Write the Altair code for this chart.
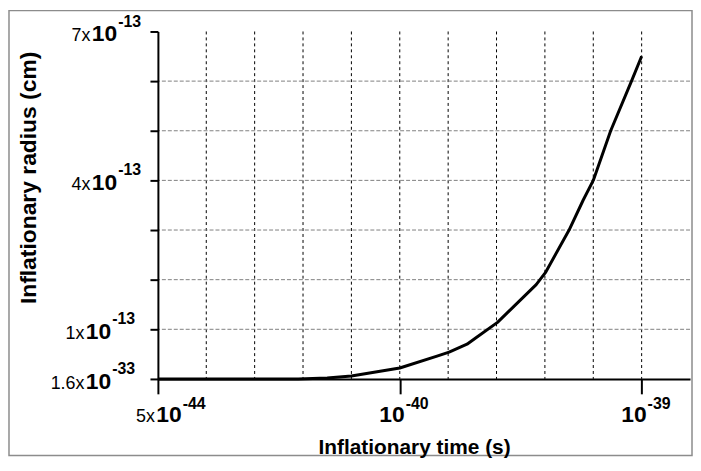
import altair as alt
import pandas as pd

FONT = "Liberation Sans"

# Curve (x: grid index, y: radius in units of 1e-13 cm)
time_idx = [0, 2.9, 3.5, 4.0, 5.0, 5.77, 6.02, 6.39, 6.59, 7.02, 7.82, 8.01, 8.5, 8.79, 9.0, 9.36, 9.79, 10.0]
radius = [0, 0, 0.02, 0.06, 0.22, 0.46, 0.54, 0.70, 0.84, 1.14, 1.90, 2.14, 3.0, 3.6, 4.0, 5.0, 6.0, 6.5]

# Axis ticks / labels
x_ticks = [0, 5, 10]
x_prefix = ["5x", "", ""]
x_exp = ["-44", "-40", "-39"]
y_ticks = [0, 1, 2, 3, 4, 5, 6, 7]
y_label_pos = [0, 1, 4, 7]
y_prefix = ["1.6x", "1x", "4x", "7x"]
y_exp = ["-33", "-13", "-13", "-13"]

# Grid lines
x_grid = [1, 2, 3, 4, 5, 6, 7, 8, 9, 10]
y_grid = [1, 2, 3, 4, 5, 6]

curve = pd.DataFrame({"t": time_idx, "r": radius})
xlab = pd.DataFrame({"t": x_ticks, "pre": x_prefix, "exp": x_exp})
ylab = pd.DataFrame({"r": y_label_pos, "pre": y_prefix, "exp": y_exp})
xg = pd.DataFrame({"t": x_grid})
yg = pd.DataFrame({"r": y_grid})

xscale = alt.Scale(domain=[0, 11], nice=False, zero=False)
yscale = alt.Scale(domain=[0, 7], nice=False, zero=False)

xaxis = alt.Axis(values=x_ticks, labels=False, grid=False, tickSize=15, tickWidth=2,
                 tickColor="black", domainColor="black", domainWidth=2,
                 title="Inflationary time (s)", titleFont=FONT, titleFontSize=21,
                 titleFontWeight="bold", titleColor="black", titleX=258, titleY=75,
                 titleAlign="center", titleBaseline="alphabetic", zindex=1)
yaxis = alt.Axis(values=y_ticks, labels=False, grid=False, tickSize=8, tickWidth=2,
                 tickColor="black", domainColor="black", domainWidth=2,
                 title="Inflationary radius (cm)", titleFont=FONT, titleFontSize=23,
                 titleFontWeight="bold", titleColor="black", titleX=-123, titleY=147,
                 titleAngle=270, titleAlign="center", titleBaseline="alphabetic", zindex=1)

X = lambda: alt.X("t:Q", scale=xscale, axis=xaxis)
Y = lambda: alt.Y("r:Q", scale=yscale, axis=yaxis)

vgrid = alt.Chart(xg).mark_rule(color="black", strokeWidth=1, strokeDash=[3, 3]).encode(x=X())
hgrid = alt.Chart(yg).mark_rule(color="#808080", strokeWidth=1, strokeDash=[4, 2]).encode(y=Y())

line = alt.Chart(curve).mark_line(color="black", strokeWidth=3, strokeJoin="round").encode(
    x=X(), y=Y())

# x tick labels: prefix + "10" + superscript exponent
xb = alt.Chart(xlab)
xtext = []
for sub, off in ((xb.transform_filter("datum.pre != ''"), 24), (xb.transform_filter("datum.pre == ''"), 5)):
    xtext.append(sub.mark_text(align="right", baseline="alphabetic", font=FONT, fontSize=23,
                               fontWeight="bold", color="black", dx=off).encode(
        x=X(), y=alt.value(393), text=alt.value("10")))
    xtext.append(sub.mark_text(align="left", baseline="alphabetic", font=FONT, fontSize=16,
                               fontWeight="bold", color="black", dx=off + 1).encode(
        x=X(), y=alt.value(380), text="exp:N"))
    xtext.append(sub.mark_text(align="right", baseline="alphabetic", font=FONT, fontSize=18,
                               color="black", dx=off - 27).encode(
        x=X(), y=alt.value(393), text="pre:N"))

# y tick labels
yb = alt.Chart(ylab)
ytext = []
for sub, xr in ((yb.transform_filter("datum.r >= 4"), -41), (yb.transform_filter("datum.r < 4"), -47)):
    ytext.append(sub.mark_text(align="right", baseline="alphabetic", font=FONT, fontSize=23,
                               fontWeight="bold", color="black", dy=10).encode(
        y=Y(), x=alt.value(xr), text=alt.value("10")))
    ytext.append(sub.mark_text(align="left", baseline="alphabetic", font=FONT, fontSize=16,
                               fontWeight="bold", color="black", dy=-5).encode(
        y=Y(), x=alt.value(xr + 1), text="exp:N"))
    ytext.append(sub.mark_text(align="right", baseline="alphabetic", font=FONT, fontSize=18,
                               color="black", dy=10).encode(
        y=Y(), x=alt.value(xr - 27), text="pre:N"))

frame = alt.Chart(pd.DataFrame({"a": [0]})).mark_rect(
    fillOpacity=0, stroke="#8c8c8c", strokeWidth=1.5).encode(
    x=alt.value(-150), x2=alt.value(538), y=alt.value(-21), y2=alt.value(427))

chart = alt.layer(frame, vgrid, hgrid, line, *xtext, *ytext).properties(
    width=536, height=350,
    padding={"left": 151, "top": 22, "right": 3, "bottom": 79},
    autosize=alt.AutoSizeParams(type="none"),
    background="white",
).configure_view(stroke=None)

chart.save("out.html", embed_options={"renderer": "svg", "actions": False})
